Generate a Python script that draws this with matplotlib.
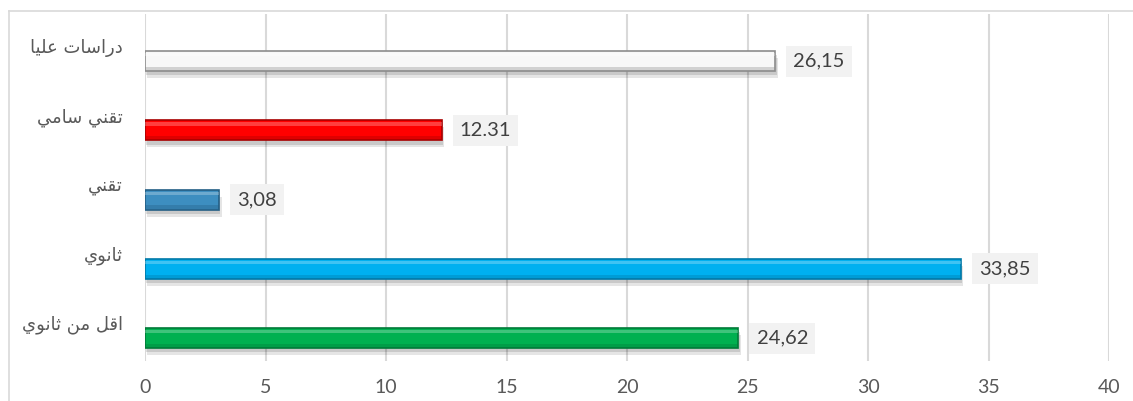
import matplotlib
matplotlib.use('Agg')
import matplotlib.pyplot as plt
from matplotlib.lines import Line2D

# data, listed bottom to top
categories = ['اقل من ثانوي', 'ثانوي', 'تقني', 'تقني سامي', 'دراسات عليا']
values = [24.62, 33.85, 3.08, 12.31, 26.15]
value_labels = ['24,62', '33,85', '3,08', '12.31', '26,15']
colors = ['#00b050', '#00b0f0', '#3d8ec0', '#ff0000', '#f7f7f7']
edges = ['#007a38', '#0079a8', '#245f85', '#a80000', '#8c8c8c']
xticks = [0, 5, 10, 15, 20, 25, 30, 35, 40]


# minimal arabic shaping (matplotlib has no bidi / joining support)
FORMS = {
    'ا': ('\uFE8D', '\uFE8E', None, None),
    'د': ('\uFEA9', '\uFEAA', None, None),
    'ر': ('\uFEAD', '\uFEAE', None, None),
    'و': ('\uFEED', '\uFEEE', None, None),
    'س': ('\uFEB1', '\uFEB2', '\uFEB3', '\uFEB4'),
    'ت': ('\uFE95', '\uFE96', '\uFE97', '\uFE98'),
    'ث': ('\uFE99', '\uFE9A', '\uFE9B', '\uFE9C'),
    'ع': ('\uFEC9', '\uFECA', '\uFECB', '\uFECC'),
    'ل': ('\uFEDD', '\uFEDE', '\uFEDF', '\uFEE0'),
    'ي': ('\uFEF1', '\uFEF2', '\uFEF3', '\uFEF4'),
    'ق': ('\uFED5', '\uFED6', '\uFED7', '\uFED8'),
    'ن': ('\uFEE5', '\uFEE6', '\uFEE7', '\uFEE8'),
    'م': ('\uFEE1', '\uFEE2', '\uFEE3', '\uFEE4'),
}


def shape(text):
    try:
        import arabic_reshaper
        from bidi.algorithm import get_display
        return get_display(arabic_reshaper.reshape(text))
    except ImportError:
        pass
    out = []
    n = len(text)
    for i, ch in enumerate(text):
        if ch not in FORMS:
            out.append(ch)
            continue
        prev = text[i - 1] if i > 0 else ''
        nxt = text[i + 1] if i < n - 1 else ''
        join_prev = prev in FORMS and FORMS[prev][2] is not None
        join_next = nxt in FORMS and FORMS[ch][2] is not None
        iso, fin, ini, med = FORMS[ch]
        if join_prev and join_next:
            out.append(med)
        elif join_prev:
            out.append(fin)
        elif join_next:
            out.append(ini)
        else:
            out.append(iso)
    return ''.join(out[::-1])


fig = plt.figure(figsize=(11.33, 4.01), dpi=100)
ax = fig.add_axes([0.128, 0.0998, 0.851, 0.8652])

ypos = list(range(len(values)))
h = 0.29

# drop shadow
ax.barh([y - 0.1 for y in ypos], values, height=h, left=0.1,
        color='#000000', alpha=0.10, zorder=2)
ax.barh([y - 0.06 for y in ypos], values, height=h, left=0.05,
        color='#000000', alpha=0.12, zorder=2)
# main bars
ax.barh(ypos, values, height=h, color=colors, edgecolor=edges,
        linewidth=1.2, zorder=3)
# bevel: dark bottom strip and light top strip
ax.barh([y - h * 0.38 for y in ypos], values, height=h * 0.2,
        color=edges, alpha=0.35, linewidth=0, zorder=4)
ax.barh([y + h * 0.32 for y in ypos], values, height=h * 0.16,
        color='white', alpha=0.25, linewidth=0, zorder=4)

for y, v, lab in zip(ypos, values, value_labels):
    ax.annotate(lab, (v, y), xytext=(13, 0), textcoords='offset points',
                ha='left', va='center', fontsize=14.5, color='#404040',
                family='Lato', zorder=5,
                bbox=dict(boxstyle='square,pad=0.35', fc='#f2f2f2', ec='none'))

ax.set_xlim(0, 40)
ax.set_ylim(-0.33, 4.68)
ax.set_xticks(xticks)
ax.set_xticklabels([str(t) for t in xticks], fontsize=14, color='#595959',
                   family='Lato')
ax.set_yticks([])
ax.tick_params(axis='x', length=0, pad=13)
ax.grid(axis='x', color='#d9d9d9', linewidth=1.5, zorder=0)
ax.set_axisbelow(True)
for s in ax.spines.values():
    s.set_visible(False)

for y, c in zip(ypos, categories):
    ax.text(-0.023, y + 0.19, shape(c), transform=ax.get_yaxis_transform(),
            ha='right', va='center', fontsize=13, color='#595959',
            family='DejaVu Sans')

# outer chart frame (top and left edges visible)
fig.add_artist(Line2D([9 / 1133, 9 / 1133], [0, 1 - 11 / 401],
                      transform=fig.transFigure, color='#d9d9d9', lw=1.2))
fig.add_artist(Line2D([9 / 1133, 1], [1 - 11 / 401, 1 - 11 / 401],
                      transform=fig.transFigure, color='#d9d9d9', lw=1.2))

fig.savefig('out.png', dpi=100)
